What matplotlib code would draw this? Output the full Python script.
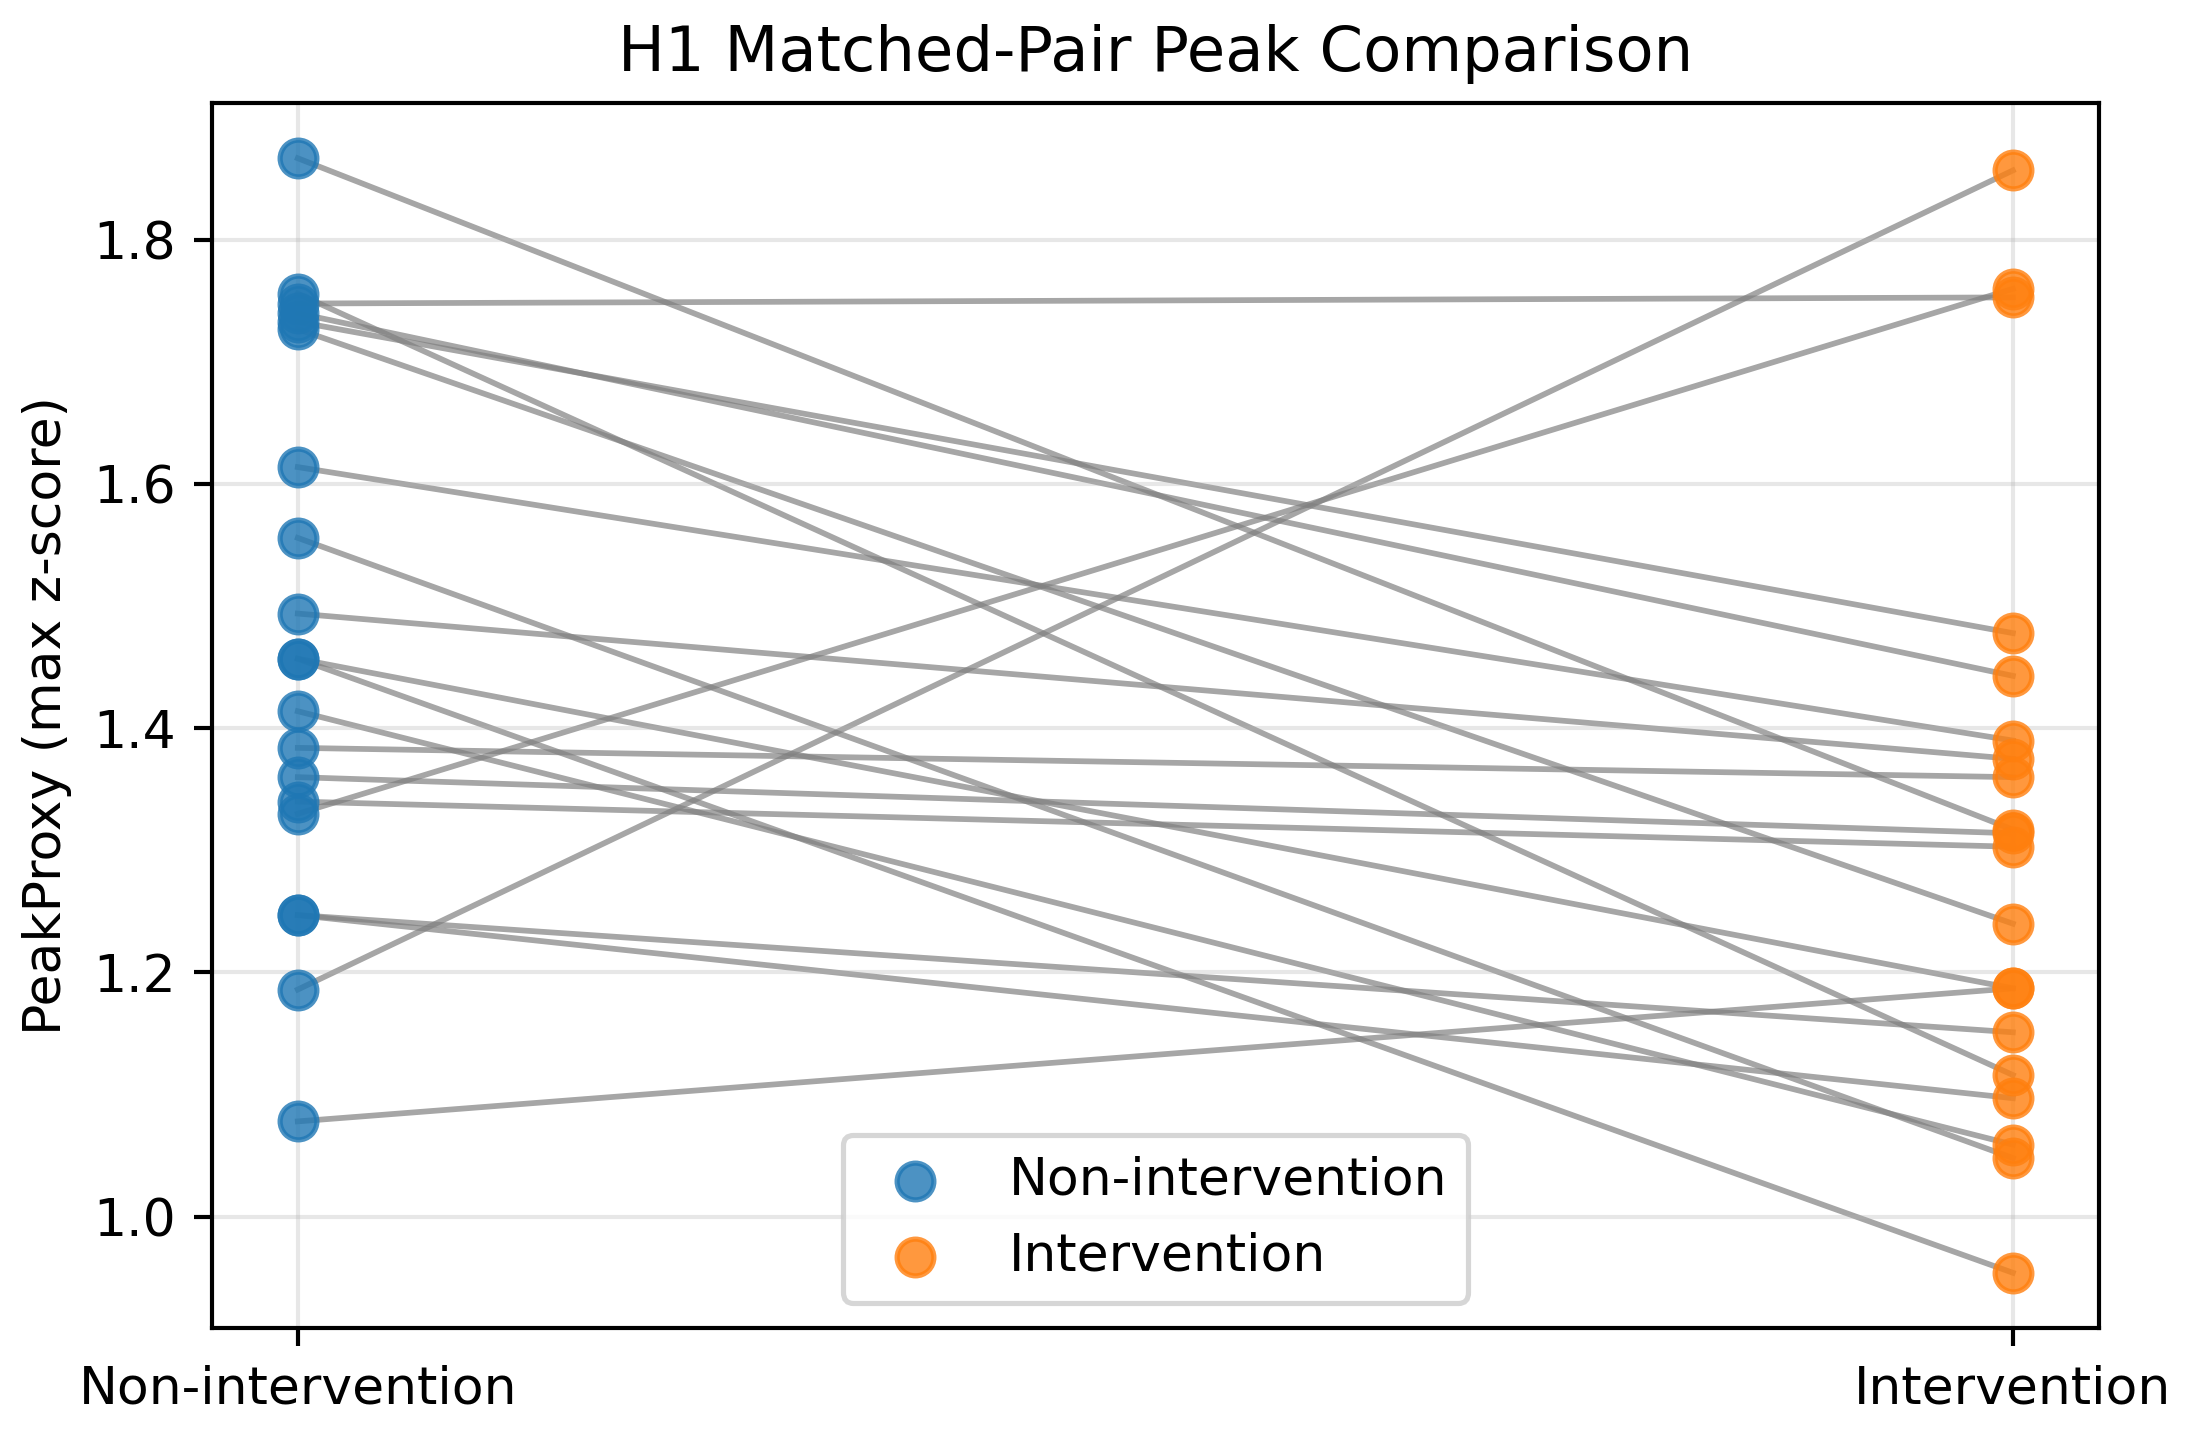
import matplotlib
matplotlib.use("Agg")
import matplotlib.pyplot as plt

# matched pairs: index i on the left is linked to index i on the right
groups = ["Non-intervention", "Intervention"]
non_intervention = [1.867, 1.756, 1.748, 1.740, 1.733, 1.727, 1.614, 1.556, 1.494, 1.457,
                    1.457, 1.414, 1.384, 1.360, 1.340, 1.330, 1.247, 1.247, 1.186, 1.078]
intervention = [1.317, 1.116, 1.753, 1.443, 1.478, 1.240, 1.390, 1.048, 1.375, 1.187,
                0.954, 1.059, 1.360, 1.314, 1.303, 1.760, 1.151, 1.097, 1.857, 1.187]

dpi = 374
fig = plt.figure(figsize=(2186 / dpi, 1444 / dpi), dpi=dpi)
ax = fig.add_axes([0.097, 0.080, 0.863, 0.849])

for a, b in zip(non_intervention, intervention):
    ax.plot([0, 1], [a, b], color="gray", alpha=0.7, lw=1.1, zorder=1)

ax.scatter([0] * len(non_intervention), non_intervention, color="tab:blue",
           alpha=0.8, s=50, label=groups[0], zorder=2)
ax.scatter([1] * len(intervention), intervention, color="tab:orange",
           alpha=0.8, s=50, label=groups[1], zorder=2)

ax.set_xticks([0, 1])
ax.set_xticklabels(groups)
ax.set_ylabel("PeakProxy (max z-score)")
ax.set_title("H1 Matched-Pair Peak Comparison")
ax.grid(alpha=0.3)
ax.legend(loc="lower center")

fig.savefig("out.png", dpi=dpi)
